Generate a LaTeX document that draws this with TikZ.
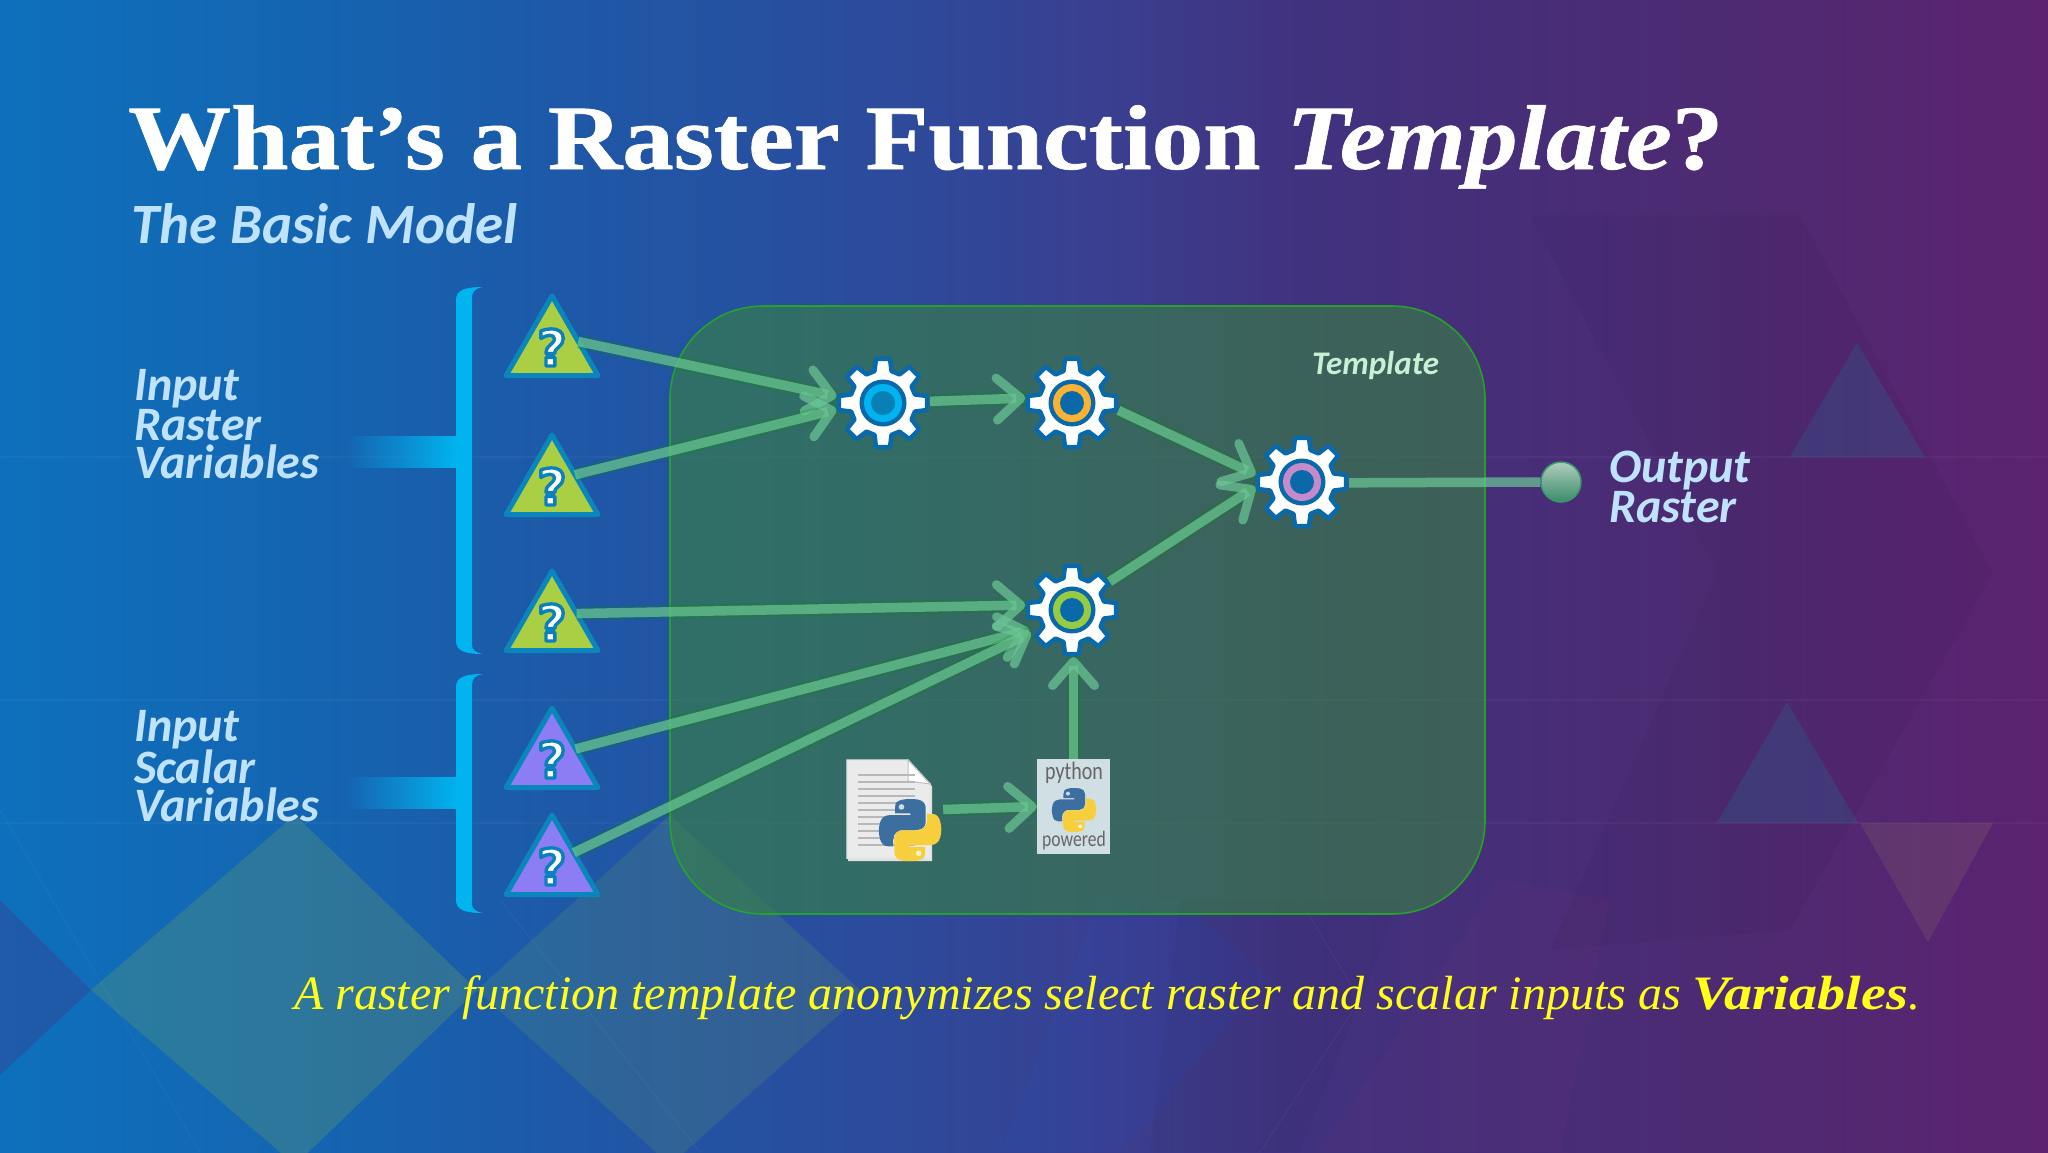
\documentclass[tikz,border=0pt]{standalone}
\usepackage{fontspec}
\usetikzlibrary{arrows.meta,shapes.geometric,fadings,calc}
\setmainfont{Liberation Serif}
\newfontfamily\capt{Carlito}
\newfontfamily\qmf{DejaVu Sans}
\newfontfamily\badgef[FakeStretch=.8]{Carlito}
\newfontfamily\ttlf[FakeStretch=1.12,FakeBold=0.7]{Liberation Serif}
\newfontfamily\varf[FakeStretch=1.17]{Liberation Serif}
\definecolor{c0}{HTML}{0E70BC}\definecolor{c1}{HTML}{1465B1}\definecolor{c2}{HTML}{1F57A6}
\definecolor{c3}{HTML}{2D4A9B}\definecolor{c4}{HTML}{3A3F90}\definecolor{c5}{HTML}{41327F}
\definecolor{c6}{HTML}{462E78}\definecolor{c7}{HTML}{4E2A72}\definecolor{c8}{HTML}{5C2270}
\pgfdeclarehorizontalshading{bgshade}{100bp}{color(0bp)=(c0);color(25bp)=(c0);color(32.3bp)=(c1);color(39.6bp)=(c2);color(47bp)=(c3);color(51.9bp)=(c4);color(56.7bp)=(c5);color(61.6bp)=(c6);color(67.7bp)=(c7);color(75bp)=(c8);color(100bp)=(c8)}
\definecolor{gearblue}{HTML}{0A69A8}
\definecolor{triblue}{HTML}{0A86BD}
\definecolor{brk}{HTML}{00B4F0}
\definecolor{arrowg}{HTML}{6CC596}
\definecolor{capblue}{HTML}{BFE3FF}
\definecolor{pyblue}{HTML}{3C6E9F}
\definecolor{pyyel}{HTML}{F7CF3C}
\definecolor{diamondc}{HTML}{70A860}
\definecolor{ringpurple}{HTML}{C48BCB}
\definecolor{ringgreen}{HTML}{96CB46}
\definecolor{ringorange}{HTML}{F9B233}
\definecolor{trigreen}{HTML}{AACF45}
\definecolor{tripurple}{HTML}{8D7DF5}
\tikzset{
  x=1pt,y=-1pt,
  gearnode/.style={circle,minimum size=94pt,inner sep=0pt,outer sep=0pt},
  tri/.style={regular polygon,regular polygon sides=3,minimum size=106pt,inner sep=0pt,outer sep=0pt,draw=triblue,line width=5pt,line join=round,fill=#1},
  arr/.style={line width=9.5pt,draw=arrowg,draw opacity=.72,
    -{Straight Barb[length=24pt,width=42pt,line width=9pt,round]},
    preaction={draw=green!55!black,line width=14pt,draw opacity=.2,-{}}},
  capt/.style={inner sep=0pt,text=capblue,font=\capt\bfseries\itshape\fontsize{48}{38}\selectfont,align=left},
  lattice/.style={draw=white,draw opacity=.035,line width=1.2pt},
}
\newcommand\qm{\smash{\makebox[0pt]{\raisebox{-17pt}{\textcolor{white}{\special{pdf:code 2 Tr 3.4 w 0.04 0.50 0.74 RG}?\special{pdf:code 0 Tr 0 w}}}}}}
\newcommand\gearicon[5]{%
  \node[gearnode] (#1) at (#2,#3) {};
  \begin{scope}[shift={(#1.center)}]
    \filldraw[draw=gearblue,line width=4.5pt,fill=white,line join=round] (-9:44.7)
      \foreach \a in {0,45,...,315}{ -- (\a-9:44.7) -- (\a+9:44.7) -- (\a+15:33) -- (\a+30:33)} -- cycle;
    \fill[gearblue] (0,0) circle[radius=23.5];
    \fill[#4] (0,0) circle[radius=19];
    \fill[#5] (0,0) circle[radius=12];
  \end{scope}}
\newcommand\pysnake{%
  (54.9,0) .. controls (50.3,0) and (46,0.4) .. (42.1,1.1)
  .. controls (30.7,3.1) and (28.6,7.3) .. (28.6,15) -- (28.6,25.2) -- (55.6,25.2) -- (55.6,28.6) -- (18.5,28.6)
  .. controls (10.6,28.6) and (3.8,33.3) .. (1.6,42.3)
  .. controls (-0.9,52.7) and (-1,59.2) .. (1.6,70)
  .. controls (3.5,78) and (8.1,83.7) .. (16,83.7) -- (25.2,83.7) -- (25.2,71.3)
  .. controls (25.2,62.3) and (33,54.4) .. (42.1,54.4) -- (69.1,54.4)
  .. controls (76.6,54.4) and (82.6,48.2) .. (82.6,40.7) -- (82.6,15)
  .. controls (82.6,7.7) and (76.4,2.2) .. (69.1,1)
  .. controls (64.4,0.2) and (59.6,0) .. (54.9,0) -- cycle}
\newcommand\pylogo[3]{%
  \begin{scope}[shift={(#1,#2)},x=#3pt,y=-#3pt]
    \fill[pyblue] \pysnake;
    \fill[white,opacity=.75] (39.8,14) circle[radius=5];
    \begin{scope}[rotate around={180:(55,55)}]
      \fill[pyyel] \pysnake;
      \fill[white,opacity=.75] (39.8,14) circle[radius=5];
    \end{scope}
  \end{scope}}
\newcommand\bracket[3]{% top, bottom, stem centre
  \fill[brk] (483,#1) .. controls (465,#1) and (456,#1+3) .. (456,#1+13) -- (456,#2-13)
     .. controls (456,#2-3) and (465,#2) .. (483,#2)
     .. controls (476,#2-1) and (472,#2-4) .. (472,#2-9) -- (472,#1+11)
     .. controls (472,#1+4) and (476,#1+1) .. (483,#1) -- cycle;
  \fill[brk,path fading=west] (345,#3-16) rectangle (457,#3+16);}
\begin{document}
\begin{tikzpicture}
\useasboundingbox (0,0) rectangle (2048,1152);
% background
\shade[shading=bgshade] (0,0) rectangle (2048,1152);
\fill[c3,opacity=.55] (0,900) -- (91,990) -- (0,1075) -- cycle;
\fill[diamondc,opacity=.27] (91,990) -- (295,815) -- (477,990) -- (295,1165) -- cycle;
\fill[diamondc,opacity=.18] (477,990) -- (670,815) -- (863,993) -- (670,1165) -- cycle;
\fill[blue!60!cyan,opacity=.06] (1100,900) -- (1180,900) -- (1270,977) -- (1120,1152) -- (1000,1152) -- cycle;
\fill[black,opacity=.03] (1530,215) -- (1800,215) -- (1993,573) -- (1790,930) -- (1550,950) -- (1717,573) -- cycle;
\fill[black,opacity=.03] (1180,900) -- (1400,900) -- (1300,1152) -- (1150,1152) -- cycle;
\fill[magenta!70!black,opacity=.05] (1500,880) -- (1610,900) -- (1560,1152) -- (1320,1152) -- cycle;
\fill[cyan!70!green,opacity=.14] (1857,343) -- (1925,457) -- (1790,457) -- cycle;
\fill[cyan!70!green,opacity=.14] (1787,702) -- (1858,823) -- (1717,823) -- cycle;
\fill[yellow!60!gray,opacity=.1] (1860,823) -- (1993,823) -- (1928,942) -- cycle;
\draw[lattice] (0,823) -- (2048,823);
\draw[lattice] (0,457) -- (2048,457);
\draw[lattice] (0,700) -- (2048,700);
\draw[lattice] (1300,900) -- (1360,1000) -- (1260,1152);
\draw[lattice] (0,810) -- (200,1152);
\draw[lattice] (500,900) -- (700,1152);
% template panel
\node[rounded corners=93pt,minimum width=815pt,minimum height=608pt,inner sep=0pt,
      fill={rgb,255:red,56;green,130;blue,66},fill opacity=.6,draw=green!60!black!85,draw opacity=.9,line width=1.6pt] (panel) at (1077.5,610) {};
\node[inner sep=0pt,anchor=base west,text={rgb,255:red,200;green,240;blue,214},font=\capt\bfseries\itshape\fontsize{33}{33}\selectfont] (tpl) at (1312,374) {Template};
% brackets
\bracket{287}{654}{452}
\bracket{674}{913}{793}
% triangles
\foreach \n/\y/\col in {t1/349/trigreen,t2/488/trigreen,t3/624/trigreen,t4/761/tripurple,t5/868/tripurple}{
  \node[tri=\col,font=\qmf\bfseries\fontsize{50}{50}\selectfont] (\n) at (552,\y) {\qm};
}
% gears
\gearicon{g1}{883}{403}{brk}{gearblue!85!cyan}
\gearicon{g2}{1072}{403}{ringorange}{gearblue}
\gearicon{g3}{1302}{482}{ringpurple}{gearblue}
\gearicon{g4}{1072}{610}{ringgreen}{gearblue}
% python powered badge
\node[fill={rgb,255:red,208;green,223;blue,227},minimum width=73pt,minimum height=95pt,inner sep=0pt] (badge) at (1073.5,806.5) {};
\node[inner sep=0pt,text=black!60,font=\badgef\fontsize{25}{25}\selectfont] (bp1) at (1074,773) {python};
\node[inner sep=0pt,text=black!60,font=\badgef\fontsize{22}{22}\selectfont] (bp2) at (1074,841) {powered};
\pylogo{1052}{788}{.4}
% document icon
\node[minimum width=83pt,minimum height=99pt,inner sep=0pt] (doc) at (888.5,809.5) {};
\fill[black!12] (848,762) -- (908,762) -- (932,786) -- (932,861) -- (848,861) -- cycle;
\filldraw[draw=white!90!black,fill=white!92!black,line width=1.5pt] (847,760) -- (908,760) -- (930,784) -- (930,858) -- (847,858) -- cycle;
\filldraw[draw=black!25,fill=white,line width=1pt] (908,760) -- (908,781) -- (930,784) -- cycle;
\foreach \yy in {775,782,...,845}{\draw[black!28,line width=1.6pt] (858,\yy) -- (915,\yy);}
\pylogo{879}{799}{.565}
% connectors
\draw[arr] (t1.16) -- (g1.172);
\draw[arr] (t2.30) -- (g1.188);
\draw[arr] (t3.23) -- (g4.174);
\draw[arr] (t4.27) -- (g4.205);
\draw[arr] (t5.35) -- (g4.209);
\draw[arr] (g1.2) -- (g2.174);
\draw[arr] (g2.-9) -- (g3.171);
\draw[arr] (g4.37) -- (g3.186);
\draw[arr] ($(doc.east)+(13,0)$) -- (badge.west);
\draw[arr] (badge.north) -- (badge.north |- g4.south);
\node[circle,minimum size=40pt,inner sep=0pt,top color={rgb,255:red,176;green,205;blue,190},bottom color={rgb,255:red,58;green,140;blue,105},draw={rgb,255:red,60;green,150;blue,110},line width=1.5pt] (ball) at (1561,482) {};
\draw[line width=9.5pt,draw=arrowg,draw opacity=.72] (g3.-1) -- (ball.west);
% text
\node[inner sep=0pt,anchor=base west,text=white,font=\ttlf\bfseries\fontsize{92}{92}\selectfont] (title) at (128,169) {What’s a Raster Function \textit{Template}?};
\node[inner sep=0pt,anchor=base west,text=capblue,font=\capt\bfseries\itshape\fontsize{57}{57}\selectfont] (sub) at (131,243) {The Basic Model};
\node[capt,anchor=west] (lraster) at (134,424) {Input\\Raster\\Variables};
\node[capt,anchor=west] (lscalar) at (134,766) {Input\\Scalar\\Variables};
\node[capt,anchor=west] (lout) at (1609,487) {Output\\Raster};
\node[inner sep=0pt,anchor=base west,text={rgb,255:red,255;green,255;blue,26},font=\itshape\fontsize{48}{48}\selectfont] (note) at (294,1009) {A raster function template anonymizes select raster and scalar inputs as {\varf\bfseries Variables}.};
\end{tikzpicture}
\end{document}
